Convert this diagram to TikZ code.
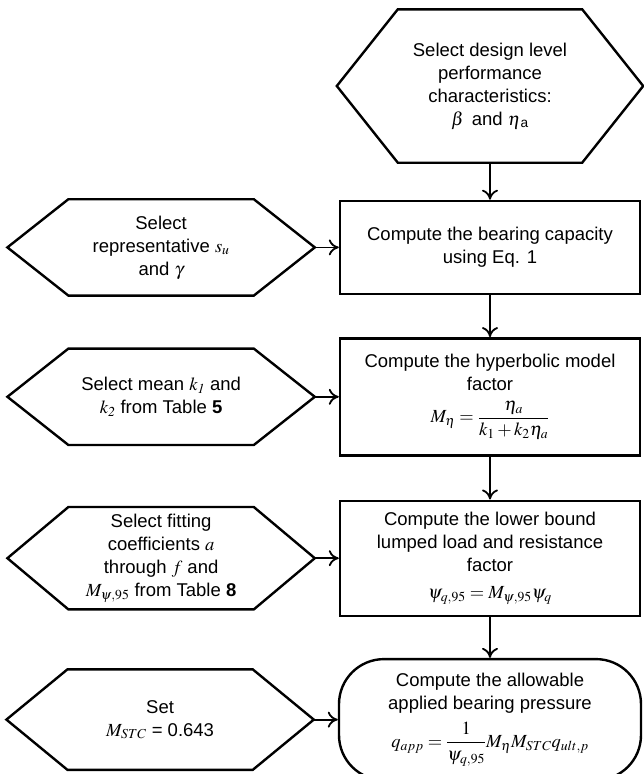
\documentclass[tikz,border=0pt]{standalone}
\usepackage{amsmath}
\usepackage{mathptmx}
\usepackage[no-math]{fontspec}
\setmainfont{Liberation Sans}
\usetikzlibrary{positioning,arrows.meta}

\newcommand{\hexframe}[1]{\draw[line width=2.4pt] (#1.west) -- ([xshift=61pt]#1.north west) -- ([xshift=-61pt]#1.north east) -- (#1.east) -- ([xshift=-61pt]#1.south east) -- ([xshift=61pt]#1.south west) -- cycle;}

\begin{document}
\begin{tikzpicture}[x=1pt, y=1pt, node distance=42pt and 24pt,
  every node/.style={align=center, font=\fontsize{18.5}{23}\selectfont},
  stepbox/.style={rectangle, draw, line width=2.4pt, minimum width=300pt, inner sep=2pt},
  hexnode/.style={rectangle, minimum width=307pt, inner sep=0pt},
  flow/.style={-{To[length=10pt,width=16pt]}, line width=1.8pt}]

\useasboundingbox (0,0) rectangle (644,-774);

% Main column
\node (design) [hexnode, minimum width=306pt, minimum height=153pt] at (490,-86) {Select design level\\ performance\\ characteristics:\\ $\beta$\, and $\eta$\textsubscript{a}};
\node (bearing) [stepbox, below=37pt of design, minimum height=93pt] {Compute the bearing capacity\\ using Eq. 1};
\node (hyper) [stepbox, below=of bearing, minimum height=117pt] {Compute the hyperbolic model\\ factor\\[9pt] $M_\eta = \dfrac{\eta_a}{k_1+k_2\eta_a}$};
\node (lower) [stepbox, below=43pt of hyper, minimum height=115pt] {Compute the lower bound\\ lumped load and resistance\\ factor\\[4pt] $\psi_{q,95} = M_{\psi,95}\psi_q$};
\node (allow) [stepbox, below=41pt of lower, minimum height=121pt, minimum width=302pt, rounded corners=45pt] {Compute the allowable\\ applied bearing pressure\\[8pt] $q_{app} = \dfrac{1}{\psi_{q,95}}M_\eta M_{STC}q_{ult,p}$};

% Input hexagons
\node (soil) [hexnode, left=of bearing, minimum height=96pt] {Select\\ representative $s_u$\\ and $\gamma$};
\node (means) [hexnode, left=of hyper, minimum height=96pt] {Select mean $k_{\mathit{1}}$ and\\ $k_{\mathit{2}}$ from Table \textbf{5}};
\node (coeff) [hexnode, left=of lower, minimum height=102pt] {Select fitting\\ coefficients $a$\\ through $f$ and\\ $M_{\psi,95}$ from Table \textbf{8}};
\node (stc) [hexnode, left=of allow, minimum height=100pt] {Set\\ $M_{STC}$ = 0.643};

\hexframe{design}
\hexframe{soil}
\hexframe{means}
\hexframe{coeff}
\hexframe{stc}

% Arrows
\draw[flow] (design) -- (bearing);
\draw[flow] (bearing) -- (hyper);
\draw[flow] (hyper) -- (lower);
\draw[flow] (lower) -- (allow);
\draw[flow] (soil) -- (bearing);
\draw[flow] (means) -- (hyper);
\draw[flow] (coeff) -- (lower);
\draw[flow] (stc) -- (allow);

\end{tikzpicture}
\end{document}
